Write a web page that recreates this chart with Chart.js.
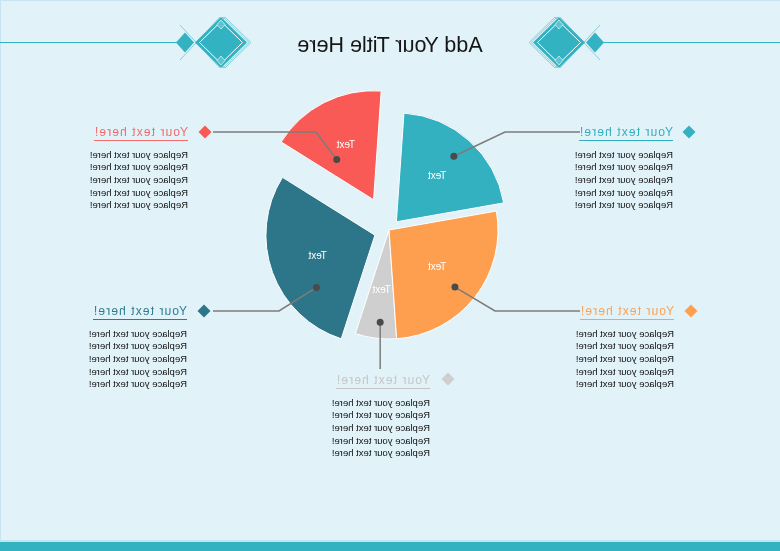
<!DOCTYPE html>
<html>
<head>
<meta charset="utf-8">
<script src="https://cdn.jsdelivr.net/npm/chart.js@4.4.1/dist/chart.umd.min.js"></script>
<style>
  html, body { margin: 0; padding: 0; background: #e1f2f9; }
  #page {
    position: relative; width: 780px; height: 551px; overflow: hidden;
    background: #e1f2f9; transform: scaleX(-1);
    font-family: "Liberation Sans", Arial, sans-serif;
  }
  #wrap { position: absolute; left: 0; top: 0; width: 780px; height: 551px; }
  .title {
    position: absolute; left: 0; width: 780px; top: 33px; line-height: 24px;
    text-align: center; font-size: 21.5px; color: #161616;
  }
  .head {
    position: absolute; font-size: 12px; letter-spacing: 1.1px; line-height: 14px;
    border-bottom: 1.5px solid; padding-bottom: 1px; white-space: nowrap;
  }
  .body {
    position: absolute; font-size: 9.5px; line-height: 12.7px; color: #111;
    white-space: nowrap;
  }
</style>
</head>
<body>
<div id="page">
  <div id="wrap"><canvas id="pie"></canvas></div>
  <div class="title">Add Your Title Here</div>
</div>
<script>
// ============================================================
// DATI
// ============================================================
const categories = ["Text", "Text", "Text", "Text", "Text"];
const values = [62, 104, 22, 96, 76];
const colors = ["#fa5a55", "#2d7689", "#cfcfcf", "#fe9f50", "#33b1c1"];
const explode = [34, 15, 0, 0, 11];
const headings = ["Your text here!", "Your text here!", "Your text here!", "Your text here!", "Your text here!"];
const headColors = ["#f26b6b", "#2f7c90", "#c6c6c6", "#fca156", "#2fb0c0"];
const bodyLines = [
  "Replace your text here!",
  "Replace your text here!",
  "Replace your text here!",
  "Replace your text here!",
  "Replace your text here!"
];

// ============================================================
// LAYOUT DEI RICHIAMI (disegnato prima dello specchio)
// ============================================================
const callouts = [
  { frac: 0.75, rFrac: 0.50, path: [[464, 132], [567, 132]], diamond: [575, 132], textX: 592, y: 132 },
  { frac: 0.71, rFrac: 0.72, path: [[501, 311], [567, 311]], diamond: [576, 311], textX: 593, y: 311 },
  { frac: 0.57, rFrac: 0.85, path: [[null, 369]], diamond: [332, 379], textX: 350, y: 380 },
  { frac: 0.47, rFrac: 0.80, path: [[285, 311], [200, 311]], diamond: [89, 311], textX: 106, y: 311 },
  { frac: 0.51, rFrac: 0.80, path: [[275, 132], [200, 132]], diamond: [91, 132], textX: 107, y: 132 }
];

const page = document.getElementById("page");
callouts.forEach((c, i) => {
  const h = document.createElement("div");
  h.className = "head";
  h.style.left = c.textX + "px";
  h.style.top = (c.y - 7) + "px";
  h.style.color = headColors[i];
  h.style.borderColor = headColors[i];
  h.textContent = headings[i];
  page.appendChild(h);

  const b = document.createElement("div");
  b.className = "body";
  b.style.left = c.textX + "px";
  b.style.top = (c.y + 16.5) + "px";
  b.innerHTML = bodyLines.join("<br>");
  page.appendChild(b);
});

// ============================================================
// PLUGIN
// ============================================================
function diamond(ctx, x, y, hw, hh) {
  ctx.beginPath();
  ctx.moveTo(x, y - hh);
  ctx.lineTo(x + hw, y);
  ctx.lineTo(x, y + hh);
  ctx.lineTo(x - hw, y);
  ctx.closePath();
}

function headerDecor(ctx, s) {
  // s = 1 left side, -1 right side (mirrored around 390)
  const X = v => (s === 1 ? v : 780 - v);
  const teal = "#33b2c2";
  ctx.strokeStyle = teal;
  ctx.lineWidth = 1;
  ctx.beginPath();
  ctx.moveTo(X(0), 42.5);
  ctx.lineTo(X(177), 42.5);
  ctx.stroke();

  // small diamond
  ctx.fillStyle = teal;
  diamond(ctx, X(185), 42.5, 9, 10);
  ctx.fill();

  // crossing lines
  ctx.strokeStyle = "rgba(51,178,194,0.55)";
  ctx.beginPath();
  ctx.moveTo(X(180), 25); ctx.lineTo(X(220), 68);
  ctx.moveTo(X(180), 60); ctx.lineTo(X(220), 17);
  ctx.stroke();

  // shadow outlines
  ctx.strokeStyle = "rgba(51,178,194,0.5)";
  [2, 4].forEach(d => {
    diamond(ctx, X(221 + d), 42.5, 26, 25.5);
    ctx.stroke();
  });

  // main diamond
  ctx.fillStyle = teal;
  diamond(ctx, X(221), 42.5, 26, 25.5);
  ctx.fill();
  ctx.strokeStyle = "#ffffff";
  diamond(ctx, X(221), 42.5, 21.5, 21);
  ctx.stroke();

  // little diamonds top / bottom
  ctx.strokeStyle = "rgba(255,255,255,0.6)";
  [24.5, 60.5].forEach(yy => {
    diamond(ctx, X(221), yy, 4, 4.5);
    ctx.fillStyle = "#5cc3d0";
    ctx.fill();
    ctx.stroke();
  });
}

const decorPlugin = {
  id: "decor",
  beforeDraw(chart) {
    const ctx = chart.ctx;
    ctx.save();
    ctx.fillStyle = "#e1f2f9";
    ctx.fillRect(0, 0, 780, 551);
    ctx.fillStyle = "#c6e5f1";
    ctx.fillRect(0, 0, 780, 1);
    ctx.fillRect(779, 0, 1, 551);
    ctx.fillStyle = "#c2e4ec";
    ctx.fillRect(0, 540, 780, 2);
    ctx.fillStyle = "#33b2c2";
    ctx.fillRect(0, 542, 780, 9);
    headerDecor(ctx, 1);
    headerDecor(ctx, -1);
    ctx.restore();
  }
};

const explodePlugin = {
  id: "explode",
  afterDatasetsUpdate(chart) {
    chart.getDatasetMeta(0).data.forEach((arc, i) => {
      const mid = (arc.startAngle + arc.endAngle) / 2;
      arc.x += Math.cos(mid) * explode[i];
      arc.y += Math.sin(mid) * explode[i];
    });
  }
};

const labelPlugin = {
  id: "labels",
  afterDatasetsDraw(chart) {
    const ctx = chart.ctx;
    ctx.save();
    chart.getDatasetMeta(0).data.forEach((arc, i) => {
      const { x, y, startAngle, endAngle, outerRadius } = arc;
      const c = callouts[i];

      // leader line + dot
      const a = startAngle + (endAngle - startAngle) * c.frac;
      const dx = x + Math.cos(a) * outerRadius * c.rFrac;
      const dy = y + Math.sin(a) * outerRadius * c.rFrac;
      ctx.strokeStyle = "#7c7c7c";
      ctx.lineWidth = 1.5;
      ctx.beginPath();
      ctx.moveTo(dx, dy);
      c.path.forEach(p => ctx.lineTo(p[0] === null ? dx : p[0], p[1]));
      ctx.stroke();
      ctx.fillStyle = "#4a4a4a";
      ctx.beginPath();
      ctx.arc(dx, dy, 3.5, 0, Math.PI * 2);
      ctx.fill();

      // marker diamond
      ctx.fillStyle = colors[i];
      diamond(ctx, c.diamond[0], c.diamond[1], 6.5, 6.5);
      ctx.fill();

      // slice label
      const mid = (startAngle + endAngle) / 2;
      ctx.fillStyle = "#ffffff";
      ctx.font = "10px 'Liberation Sans', Arial, sans-serif";
      ctx.textAlign = "center";
      ctx.textBaseline = "middle";
      ctx.fillText(categories[i],
        x + Math.cos(mid) * outerRadius * 0.56,
        y + Math.sin(mid) * outerRadius * 0.56);
    });
    ctx.restore();
  }
};

// ============================================================
// GRAFICO
// ============================================================
const ctx = document.getElementById("pie").getContext("2d");
new Chart(ctx, {
  type: "pie",
  data: {
    labels: categories,
    datasets: [
      {
        data: values,
        backgroundColor: colors,
        borderColor: "#ffffff",
        borderWidth: 1,
        radius: 109
      }
    ]
  },
  options: {
    responsive: true,
    maintainAspectRatio: false,
    animation: false,
    events: [],
    rotation: -4,
    layout: { padding: { left: 270, right: 268, top: 110, bottom: 201 } },
    plugins: {
      legend: { display: false },
      tooltip: { enabled: false },
      title: { display: false }
    }
  },
  plugins: [decorPlugin, explodePlugin, labelPlugin]
});
</script>
</body>
</html>
